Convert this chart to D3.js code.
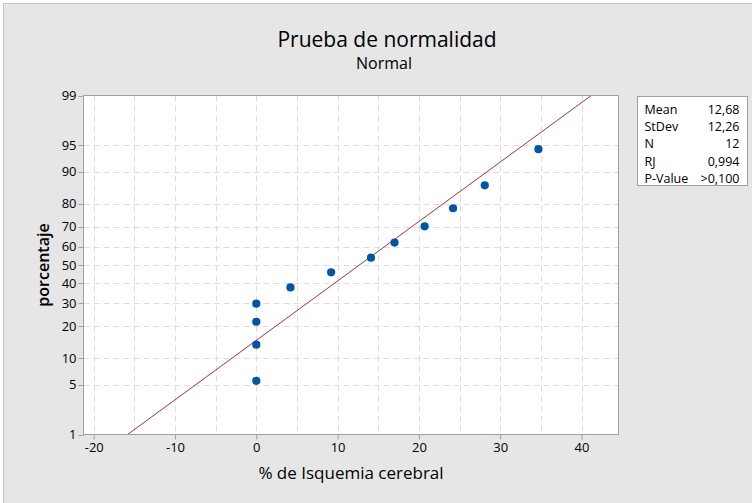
<!DOCTYPE html>
<html>
<head>
<meta charset="utf-8">
<script src="https://cdn.jsdelivr.net/npm/d3@7"></script>
<style>
  body { margin: 0; background: #fff; }
  svg text { font-family: "Open Sans", "Noto Sans", sans-serif; fill: #000; }
</style>
</head>
<body>
<svg id="chart" width="752" height="503"></svg>
<script>
// datos
var xValues = [0, 0, 0, 0, 4.2, 9.2, 14.1, 17.0, 20.7, 24.2, 28.1, 34.7];
var pctValues = [5.6, 13.7, 21.8, 29.8, 37.9, 46.0, 54.0, 62.1, 70.2, 78.2, 86.3, 94.4];
var xTicks = [-20, -10, 0, 10, 20, 30, 40];
var xGrid = [-20, -15, -10, -5, 0, 5, 10, 15, 20, 25, 30, 35, 40];
var yTicks = [1, 5, 10, 20, 30, 40, 50, 60, 70, 80, 90, 95, 99];
var statLabels = ['Mean', 'StDev', 'N', 'RJ', 'P-Value'];
var statValues = ['12,68', '12,26', '12', '0,994', '>0,100'];
var fitMean = 12.68;
var fitSd = 12.26;

// inverse normal (Acklam)
function probit(p) {
	var a = [-39.69683028665376, 220.9460984245205, -275.9285104469687, 138.3577518672690, -30.66479806614716, 2.506628277459239];
	var b = [-54.47609879822406, 161.5858368580409, -155.6989798598866, 66.80131188771972, -13.28068155288572];
	var c = [-0.007784894002430293, -0.3223964580411365, -2.400758277161838, -2.549732539343734, 4.374664141464968, 2.938163982698783];
	var d = [0.007784695709041462, 0.3224671290700398, 2.445134137142996, 3.754408661907416];
	var q, r;
	if (p < 0.02425) {
		q = Math.sqrt(-2 * Math.log(p));
		return (((((c[0]*q+c[1])*q+c[2])*q+c[3])*q+c[4])*q+c[5]) / ((((d[0]*q+d[1])*q+d[2])*q+d[3])*q+1);
	} else if (p > 1 - 0.02425) {
		q = Math.sqrt(-2 * Math.log(1 - p));
		return -(((((c[0]*q+c[1])*q+c[2])*q+c[3])*q+c[4])*q+c[5]) / ((((d[0]*q+d[1])*q+d[2])*q+d[3])*q+1);
	}
	q = p - 0.5;
	r = q * q;
	return (((((a[0]*r+a[1])*r+a[2])*r+a[3])*r+a[4])*r+a[5])*q / (((((b[0]*r+b[1])*r+b[2])*r+b[3])*r+b[4])*r+1);
}

var svg = d3.select('#chart');

// plot box
var plotL = 83.5, plotR = 618.5, plotT = 95.5, plotB = 434.5;

var x = d3.scaleLinear().domain([-21.26, 44.55]).range([plotL, plotR]);
var yz = d3.scaleLinear().domain([probit(0.01), probit(0.99)]).range([plotB, plotT]);
function y(p) { return yz(probit(p / 100)); }

// grey frame
svg.append('rect')
  .attr('x', 3.5).attr('y', 3.5)
  .attr('width', 752).attr('height', 503)
  .attr('fill', '#e6e6e6')
  .attr('stroke', '#c4c4c4');

svg.append('rect')
  .attr('x', plotL).attr('y', plotT)
  .attr('width', plotR - plotL).attr('height', plotB - plotT)
  .attr('fill', '#fff');

// grid
svg.append('g').selectAll('line')
  .data(xGrid)
  .join('line')
  .attr('x1', d => Math.round(x(d)) + 0.5).attr('x2', d => Math.round(x(d)) + 0.5)
  .attr('y1', plotT).attr('y2', plotB)
  .attr('stroke', '#dcdcdc')
  .attr('stroke-dasharray', '6,4');

svg.append('g').selectAll('line')
  .data(yTicks.filter(d => d > 1 && d < 99))
  .join('line')
  .attr('x1', plotL).attr('x2', plotR)
  .attr('y1', d => Math.round(y(d)) + 0.5).attr('y2', d => Math.round(y(d)) + 0.5)
  .attr('stroke', '#dcdcdc')
  .attr('stroke-dasharray', '6,4');

// fitted line
svg.append('clipPath').attr('id', 'plotclip')
  .append('rect')
  .attr('x', plotL).attr('y', plotT)
  .attr('width', plotR - plotL).attr('height', plotB - plotT);

var fitPct = [1, 99];
svg.append('line')
  .attr('clip-path', 'url(#plotclip)')
  .attr('x1', x(fitMean + fitSd * probit(fitPct[0] / 100)))
  .attr('y1', y(fitPct[0]))
  .attr('x2', x(fitMean + fitSd * probit(fitPct[1] / 100)))
  .attr('y2', y(fitPct[1]))
  .attr('stroke', '#b03232')
  .attr('stroke-width', 1);

// points
svg.append('g').selectAll('circle')
  .data(xValues)
  .join('circle')
  .attr('cx', d => x(d))
  .attr('cy', (d, i) => y(pctValues[i]))
  .attr('r', 4.1)
  .attr('fill', '#0055a5');

// plot border
svg.append('rect')
  .attr('x', plotL).attr('y', plotT)
  .attr('width', plotR - plotL).attr('height', plotB - plotT)
  .attr('fill', 'none')
  .attr('stroke', '#a0a0a0');

// x axis
var xAxis = svg.append('g')
  .attr('transform', 'translate(0,' + plotB + ')')
  .call(d3.axisBottom(x).tickValues(xTicks).tickSize(5).tickPadding(3).tickFormat(d => String(d)));
xAxis.select('.domain').remove();
xAxis.selectAll('line').attr('stroke', '#a0a0a0');
xAxis.selectAll('text').style('font-size', '13px').attr('fill', '#000');

// y axis
var yAxis = svg.append('g')
  .attr('transform', 'translate(' + plotL + ',0)');
yAxis.selectAll('line')
  .data(yTicks)
  .join('line')
  .attr('x1', -5).attr('x2', 0)
  .attr('y1', d => Math.round(y(d)) + 0.5).attr('y2', d => Math.round(y(d)) + 0.5)
  .attr('stroke', '#a0a0a0');
yAxis.selectAll('text')
  .data(yTicks)
  .join('text')
  .attr('x', -7)
  .attr('y', d => y(d))
  .attr('dy', '0.35em')
  .attr('text-anchor', 'end')
  .style('font-size', '13px')
  .text(d => d);

// titles
svg.append('text')
  .attr('x', 387).attr('y', 47)
  .attr('text-anchor', 'middle')
  .style('font-size', '21px')
  .style('font-weight', '500')
  .text('Prueba de normalidad');

svg.append('text')
  .attr('x', 384).attr('y', 69)
  .attr('text-anchor', 'middle')
  .style('font-size', '16px')
  .text('Normal');

svg.append('text')
  .attr('transform', 'translate(49,265) rotate(-90)')
  .attr('text-anchor', 'middle')
  .style('font-size', '16px')
  .style('font-weight', '600')
  .text('porcentaje');

svg.append('text')
  .attr('x', 351).attr('y', 479)
  .attr('text-anchor', 'middle')
  .style('font-size', '17px')
  .text('% de Isquemia cerebral');

// stats box
var box = svg.append('g').attr('transform', 'translate(637.5,96.5)');
box.append('rect')
  .attr('width', 110).attr('height', 89)
  .attr('fill', '#fff')
  .attr('stroke', '#a0a0a0');
box.selectAll('text.lab')
  .data(statLabels)
  .join('text')
  .attr('class', 'lab')
  .attr('x', 7)
  .attr('y', (d, i) => 17 + i * 17.4)
  .style('font-size', '12.5px')
  .text(d => d);
box.selectAll('text.val')
  .data(statValues)
  .join('text')
  .attr('class', 'val')
  .attr('x', 102)
  .attr('y', (d, i) => 17 + i * 17.4)
  .attr('text-anchor', 'end')
  .style('font-size', '12.5px')
  .text(d => d);
</script>
</body>
</html>
